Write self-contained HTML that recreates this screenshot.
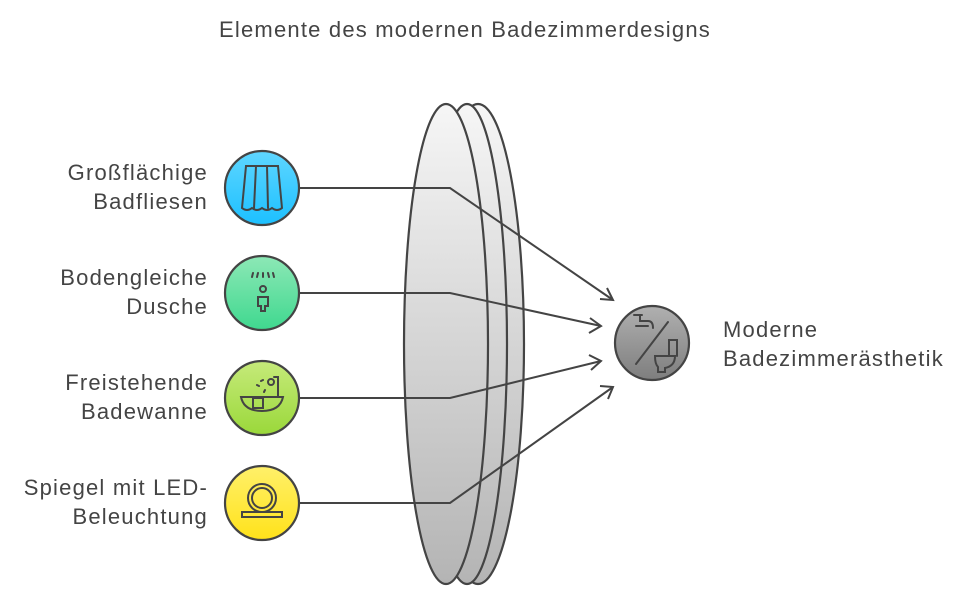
<!DOCTYPE html>
<html><head><meta charset="utf-8"><style>
body{margin:0;background:#fff;width:975px;height:602px;overflow:hidden}
svg{display:block}
text{font-family:"Liberation Sans",sans-serif;fill:#444;font-size:22px;letter-spacing:1.2px}
</style></head><body>
<svg width="975" height="602" viewBox="0 0 975 602">
<defs>
<linearGradient id="g" x1="0" y1="0" x2="0" y2="1"><stop offset="0" stop-color="#f6f6f6"/><stop offset="1" stop-color="#b4b4b4"/></linearGradient>
<linearGradient id="b" x1="0" y1="0" x2="0" y2="1"><stop offset="0" stop-color="#5fd6ff"/><stop offset="1" stop-color="#1cc0ff"/></linearGradient>
<linearGradient id="gr" x1="0" y1="0" x2="0" y2="1"><stop offset="0" stop-color="#8de8b6"/><stop offset="1" stop-color="#3fd88f"/></linearGradient>
<linearGradient id="l" x1="0" y1="0" x2="0" y2="1"><stop offset="0" stop-color="#c6ea7a"/><stop offset="1" stop-color="#9ad83a"/></linearGradient>
<linearGradient id="y" x1="0" y1="0" x2="0" y2="1"><stop offset="0" stop-color="#fff06a"/><stop offset="1" stop-color="#ffe21a"/></linearGradient>
<linearGradient id="d" x1="0" y1="0" x2="0" y2="1"><stop offset="0" stop-color="#b0b0b0"/><stop offset="1" stop-color="#7e7e7e"/></linearGradient>
</defs>
<text x="465" y="37" text-anchor="middle">Elemente des modernen Badezimmerdesigns</text>
<g stroke="#444" stroke-width="2.2">
<ellipse cx="478" cy="344" rx="46" ry="240" fill="url(#g)"/>
<ellipse cx="467" cy="344" rx="40" ry="240" fill="url(#g)"/>
<ellipse cx="446" cy="344" rx="42" ry="240" fill="url(#g)"/>
</g>
<g stroke="#444" stroke-width="2" fill="none">
<polyline points="300,188 450,188 613,300"/>
<polyline points="300,293 450,293 601,326"/>
<polyline points="300,398 450,398 601,361"/>
<polyline points="300,503 450,503 613,387"/>
<polyline points="600,299 613,300 607,288"/>
<polyline points="590,318 601,326 589,333"/>
<polyline points="589,355 601,361 591,370"/>
<polyline points="600,386 613,387 608,399"/>
</g>
<g stroke="#444" stroke-width="2.2">
<circle cx="262" cy="188" r="37" fill="url(#b)"/>
<circle cx="262" cy="293" r="37" fill="url(#gr)"/>
<circle cx="262" cy="398" r="37" fill="url(#l)"/>
<circle cx="262" cy="503" r="37" fill="url(#y)"/>
<circle cx="652" cy="343" r="37" fill="url(#d)"/>
</g>
<g stroke="#444" stroke-width="2" fill="none" stroke-linecap="round">
<path d="M246,166 h32 l4,42 q-5,4 -10,0 q-5,4 -10,0 q-5,4 -10,0 q-5,4 -10,0 z M256,166 l-2,42 M267,166 l1,42"/>
<path d="M253,273 l-1,4 M258,273 l-1,4 M263,273 v4 M268,273 l1,4 M273,273 l1,4"/>
<circle cx="263" cy="289" r="3"/>
<path d="M258,306 v-9 h10 v9 h-3 v5 h-4 v-5 z"/>
<path d="M241,397 h42 q-3,14 -21,14 q-18,0 -21,-14 z"/>
<rect x="253" y="398" width="10" height="10"/>
<path d="M278,397 v-20 h-4 M257,385 l2,1 M261,381 l2,-1 M265,390 l-1,2"/>
<circle cx="271" cy="382" r="3"/>
<circle cx="262" cy="498" r="14"/><circle cx="262" cy="498" r="10"/>
<path d="M242,512 h40 v5 h-40 z"/>
<path d="M636,364 l32,-42"/>
<path d="M634,315 h6 v6 h8 q5,0 5,7 M642,315 h-4 M636,326 h12"/>
<path d="M655,356 h20 q0,10 -10,12 v4 h-7 v-5 q-3,-3 -3,-11 z M669,356 v-16 h8 v16"/>
</g>
<text x="208" y="180" text-anchor="end">Großflächige</text>
<text x="208" y="209" text-anchor="end">Badfliesen</text>
<text x="208" y="285" text-anchor="end">Bodengleiche</text>
<text x="208" y="314" text-anchor="end">Dusche</text>
<text x="208" y="390" text-anchor="end">Freistehende</text>
<text x="208" y="419" text-anchor="end">Badewanne</text>
<text x="208" y="495" text-anchor="end">Spiegel mit LED-</text>
<text x="208" y="524" text-anchor="end">Beleuchtung</text>
<text x="723" y="337">Moderne</text>
<text x="723" y="366">Badezimmerästhetik</text>
</svg>
</body></html>
